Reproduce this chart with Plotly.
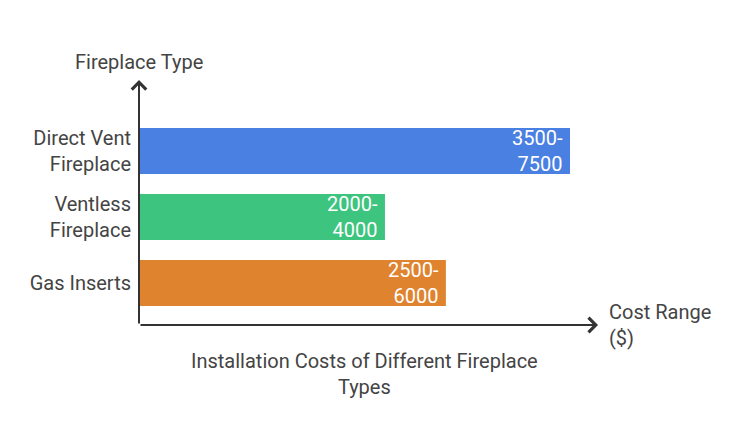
import plotly.graph_objects as go

# Data
categories = ["Gas Inserts", "Ventless Fireplace", "Direct Vent Fireplace"]
tick_labels = ["Gas Inserts", "Ventless<br>Fireplace", "Direct Vent<br>Fireplace"]
bar_lengths = [5340, 4280, 7500]          # bar lengths
range_labels = ["2500-<br>6000", "2000-<br>4000", "3500-<br>7500"]
colors = ["#E0832F", "#3DC47E", "#4A80E2"]

FONT = "Roboto, 'Open Sans', sans-serif"
TXT = "#444444"
AX = "#333333"

positions = list(range(len(categories)))

fig = go.Figure()
fig.add_trace(go.Bar(
    x=bar_lengths, y=positions, orientation="h",
    marker=dict(color=colors, line=dict(width=0)),
    width=0.697, hoverinfo="skip",
))

# value labels inside bars
for xv, yv, t in zip(bar_lengths, positions, range_labels):
    fig.add_annotation(x=xv, y=yv, xref="x", yref="y", text=t, showarrow=False,
                       xanchor="right", yanchor="middle", align="right", xshift=-5,
                       font=dict(family=FONT, size=20, color="white"))

# axis arrows
fig.add_annotation(x=0, y=1, xref="paper", yref="paper", ax=0, ay=245,
                   axref="pixel", ayref="pixel", showarrow=True, arrowhead=4,
                   arrowsize=1.4, arrowwidth=2, arrowcolor=AX, text="")
fig.add_annotation(x=1, y=0, xref="paper", yref="paper", ax=-459, ay=0,
                   axref="pixel", ayref="pixel", showarrow=True, arrowhead=4,
                   arrowsize=1.4, arrowwidth=2, arrowcolor=AX, text="")

# axis titles
fig.add_annotation(x=0, y=1, xref="paper", yref="paper", text="Fireplace Type",
                   showarrow=False, xanchor="center", yanchor="middle", yshift=18,
                   font=dict(family=FONT, size=20, color=TXT))
fig.add_annotation(x=1, y=0, xref="paper", yref="paper", text="Cost Range<br>($)",
                   showarrow=False, xanchor="left", yanchor="middle", align="left", xshift=9,
                   font=dict(family=FONT, size=20, color=TXT))
fig.add_annotation(x=0.5, y=0, xref="paper", yref="paper",
                   text="Installation Costs of Different Fireplace<br>Types",
                   showarrow=False, xanchor="center", yanchor="middle", align="center",
                   xshift=-4, yshift=-49,
                   font=dict(family=FONT, size=20, color=TXT))

fig.update_layout(
    width=752, height=446,
    margin=dict(l=139, r=154, t=80, b=121),
    paper_bgcolor="white", plot_bgcolor="white",
    showlegend=False,
    xaxis=dict(range=[0, 7987], showgrid=False, zeroline=False, showticklabels=False,
               showline=False, fixedrange=True),
    yaxis=dict(range=[-0.636, 3.076], showgrid=False, zeroline=False, showline=False,
               tickvals=positions, ticktext=tick_labels, ticks="outside", ticklen=3,
               tickcolor="rgba(0,0,0,0)",
               tickfont=dict(family=FONT, size=20, color=TXT), fixedrange=True),
)

fig.write_html("out.html", config={"displayModeBar": False})
